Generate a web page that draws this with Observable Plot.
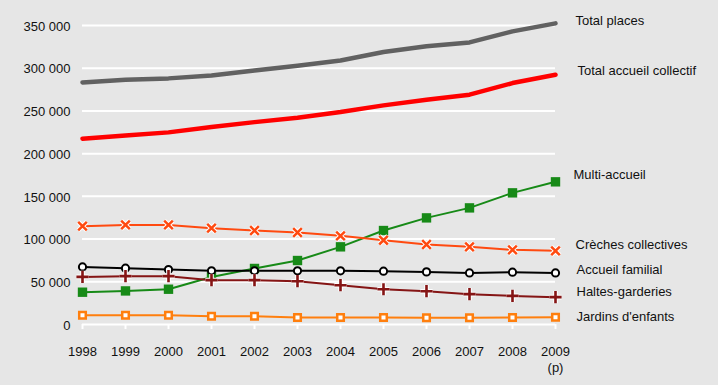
<!DOCTYPE html>
<html><head><meta charset="utf-8">
<script src="https://cdn.jsdelivr.net/npm/d3@7"></script>
<script src="https://cdn.jsdelivr.net/npm/@observablehq/plot@0.6"></script>
<style>
html,body{margin:0;padding:0;background:#e6e6e6;}
#chart svg{display:block;}
</style></head><body><div id="chart"></div>
<script>
const years = [1998,1999,2000,2001,2002,2003,2004,2005,2006,2007,2008,2009];
const yearLabels = ["1998","1999","2000","2001","2002","2003","2004","2005","2006","2007","2008","2009\n(p)"];
const yTicks = [0,50000,100000,150000,200000,250000,300000,350000];
const totalPlaces = [283400,286600,288100,291600,297400,302900,309100,318900,325600,330200,343100,352500];
const totalCollectif = [217500,221300,224900,231100,236900,242100,248700,256500,263200,269000,282600,292400];
const multiAccueil = [37800,39300,41300,55700,65600,74900,90900,110000,124800,136500,154100,167000];
const creches = [115100,116600,116600,112800,110000,107700,103800,98700,93700,90900,87400,86200];
const accueilFamilial = [67400,65900,64400,62800,62800,62800,62800,62400,61600,60400,61200,60400];
const haltes = [55700,56600,56600,51900,51900,50700,46000,41300,39000,35500,33500,32000];
const jardins = [10900,10900,10900,9700,9700,8200,8200,8200,7900,7900,8200,8500];
const seriesNames = ["Total places","Total accueil collectif","Multi-accueil","Crèches collectives","Accueil familial","Haltes-garderies","Jardins d'enfants"];

const seriesValues = [totalPlaces,totalCollectif,multiAccueil,creches,accueilFamilial,haltes,jardins];
const styles = [
  {color:"#616161", width:4.5, symbol:null, dx:20, dy:-3},
  {color:"#ff0000", width:4.5, symbol:null, dx:22, dy:-4},
  {color:"#178a17", width:2, symbol:"square", r:5.3, fill:"#178a17", sw:0, dx:18, dy:-7},
  {color:"#ff4a10", width:2, symbol:"times", r:4, fill:"none", sw:2.5, halo:true, dx:20, dy:-6},
  {color:"#000000", width:2, symbol:"circle", r:3.6, fill:"white", sw:2, dx:21, dy:-3},
  {color:"#851515", width:2, symbol:"plus", r:4, fill:"none", sw:2.6, halo:true, dx:21, dy:-5.5},
  {color:"#ff7f0e", width:2, symbol:"square", r:3.7, fill:"white", sw:2.5, dx:21, dy:0}
];

const tables = seriesValues.map((vals, s) => years.map((yr, i) => ({year: yr, value: vals[i], name: seriesNames[s]})));
const fmt = d => d3.format(",")(d).replace(/,/g, " ");

const marks = [
  Plot.gridY(yTicks, {stroke:"white", strokeOpacity:1, strokeWidth:2}),
  Plot.axisY({ticks: yTicks, tickSize:0, tickPadding:12, tickFormat: fmt, fill:"#111", dy:1, label:null}),
  Plot.axisX({ticks: years, tickSize:5, tickPadding:14, stroke:"white", strokeWidth:2, fill:"#111", lineHeight:1.3,
    tickFormat: d => yearLabels[years.indexOf(d)], label:null})
];
tables.forEach((t, s) => {
  const st = styles[s];
  marks.push(Plot.line(t, {x:"year", y:"value", stroke: st.color, strokeWidth: st.width}));
});
tables.forEach((t, s) => {
  const st = styles[s];
  if (!st.symbol) return;
  if (st.halo) marks.push(Plot.dot(t, {x:"year", y:"value", symbol: st.symbol, r: st.r, stroke:"white", strokeWidth: st.sw + 2}));
  marks.push(Plot.dot(t, {x:"year", y:"value", symbol: st.symbol, r: st.r, fill: st.fill, stroke: st.sw ? st.color : "none", strokeWidth: st.sw}));
});
tables.forEach((t, s) => {
  const st = styles[s];
  marks.push(Plot.text([t[t.length-1]], {x:"year", y:"value", text:"name", textAnchor:"start", dx: st.dx, dy: st.dy, fill:"#111"}));
});

const chart = Plot.plot({
  width: 718, height: 385,
  marginLeft: 82, marginRight: 163, marginTop: 25, marginBottom: 61,
  x: {domain:[1998,2009], label:null},
  y: {domain:[0,350000], label:null},
  style: {background:"#e6e6e6", fontFamily:"'Liberation Sans', Arial, sans-serif", fontSize:"13px", color:"#111", overflow:"visible"},
  marks
});
document.getElementById("chart").append(chart);
</script></body></html>
